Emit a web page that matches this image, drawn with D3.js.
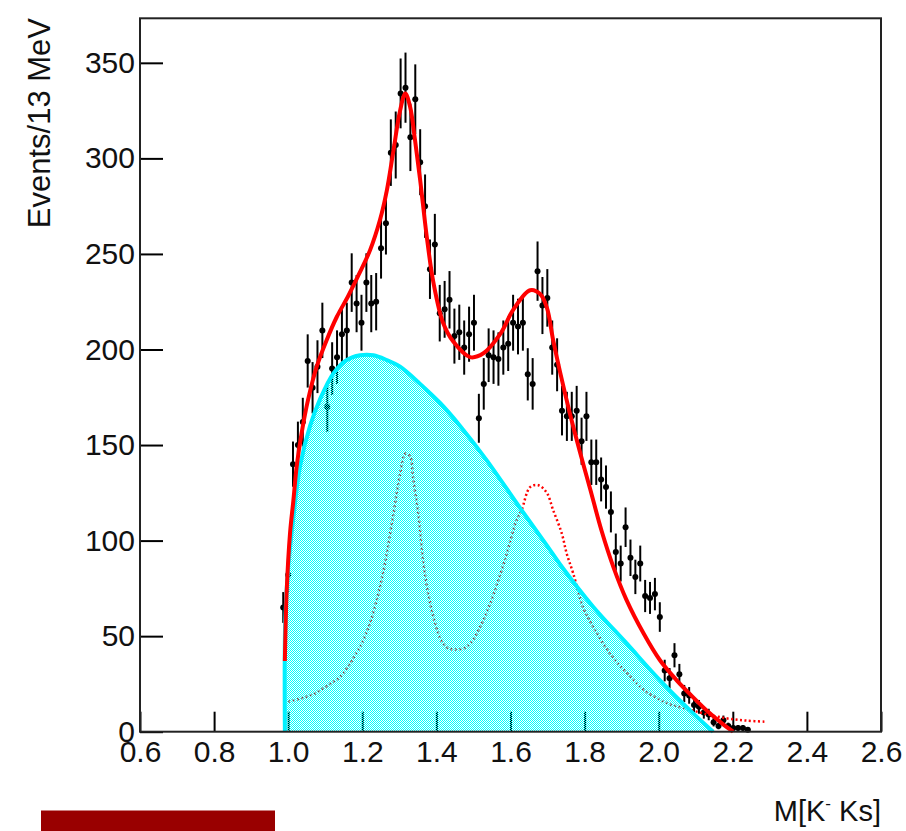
<!DOCTYPE html>
<html>
<head>
<meta charset="utf-8">
<script src="https://cdn.jsdelivr.net/npm/d3@7"></script>
<style>
  body { margin: 0; background: #fff; }
  svg { display: block; }
  text { font-family: "Liberation Sans", Arial, sans-serif; }
</style>
</head>
<body>
<script>
// size of the page
var w = 906;
var h = 831;

// histogram binning: 100 bins from 0.98 to 2.30 (about 13 MeV each)
var binLow = 0.98;
var binWidth = 0.0132;

// events per bin, first bin at 0.98 (empty bins at the end are not drawn)
var counts = [65, 82, 140, 150, 162, 194, 180, 191, 210, 170,
              190, 196, 208, 210, 235, 224, 214, 235, 224, 225,
              253, 266, 303, 307, 334, 337, 311, 331, 298, 275,
              242, 255, 219, 221, 226, 207, 209, 201, 208, 214,
              164, 182, 197, 196, 195, 201, 203, 214, 212, 214,
              187, 182, 241, 223, 227, 201, 192, 168, 165, 165,
              168, 152, 165, 141, 141, 132, 128, 115, 94, 88,
              107, 91, 81, 88, 71, 70, 72, 60, 32, 28,
              40, 30, 20, 19, 14, 13, 10, 9, 5, 3,
              6, 3, 2, 2, 2, 1];

// total fit (red solid)
var fitX = [0.991, 0.996, 1.005, 1.014, 1.023, 1.036, 1.054, 1.077, 1.104, 1.131,
            1.162, 1.190, 1.221, 1.248, 1.266, 1.284, 1.302, 1.316, 1.329, 1.342,
            1.356, 1.374, 1.392, 1.418, 1.446, 1.491, 1.527, 1.572, 1.608, 1.653,
            1.680, 1.698, 1.715, 1.734, 1.761, 1.788, 1.815, 1.846, 1.878, 1.913,
            1.959, 2.003, 2.048, 2.093, 2.138, 2.170, 2.201];
var fitY = [37, 74, 104, 121, 139, 156, 174, 191, 205, 217,
            228, 239, 252, 268, 283, 304, 325, 334, 327, 310,
            289, 259, 235, 214, 204, 196, 198, 208, 221, 231,
            229, 222, 205, 188, 166, 146, 127, 105, 86, 69,
            51.5, 37.5, 27, 18, 9.6, 4.5, 0];

// background (cyan)
var bkgX = [0.991, 0.992, 1.000, 1.014, 1.032, 1.059, 1.086, 1.122, 1.158, 1.194,
            1.230, 1.266, 1.302, 1.356, 1.410, 1.464, 1.536, 1.626, 1.700, 1.734,
            1.823, 1.913, 2.003, 2.093, 2.147];
var bkgY = [0, 58, 86, 112, 139, 160, 174, 187.5, 194.5, 197,
            197, 194.5, 191, 182, 172, 160, 142, 117, 97, 87.5,
            65.4, 46.3, 27, 9.6, 0];

// signal (red dotted)
var sigX = [1.000, 1.032, 1.068, 1.104, 1.140, 1.176, 1.203, 1.221, 1.243, 1.261,
            1.284, 1.302, 1.316, 1.329, 1.337, 1.351, 1.365, 1.378, 1.392, 1.410,
            1.428, 1.450, 1.473, 1.491, 1.518, 1.545, 1.585, 1.617, 1.630, 1.653,
            1.675, 1.698, 1.715, 1.738, 1.752, 1.769, 1.796, 1.823, 1.868, 1.913,
            1.959, 2.021, 2.075, 2.120, 2.183, 2.237, 2.291];
var sigY = [15.7, 17.3, 19.6, 23.9, 28.8, 38.4, 48, 57, 72, 88,
            114, 135, 145.5, 144, 133, 114, 88, 72, 60, 49,
            44, 43, 43.6, 46, 55, 67, 90, 111, 116, 128,
            129, 125, 116, 104, 93, 83, 65, 55, 41, 31,
            22, 15, 12, 9.6, 7, 5.8, 5.2];

// axis ticks
var xMajor = [0.6, 0.8, 1.0, 1.2, 1.4, 1.6, 1.8, 2.0, 2.2, 2.4, 2.6];
var yMajor = [0, 50, 100, 150, 200, 250, 300, 350];

var svg = d3.select("body")
        .append("svg")
        .attr("width", w)
        .attr("height", h);

var x = d3.scaleLinear().domain([0.6, 2.6]).range([140, 881]);
var y = d3.scaleLinear().domain([0, 373.3]).range([731.7, 18.3]);

// stipple fill like ROOT fill style 3001 (checkerboard)
var defs = svg.append("defs");
var pat = defs.append("pattern")
        .attr("id", "stip")
        .attr("width", 2)
        .attr("height", 2)
        .attr("patternUnits", "userSpaceOnUse");
pat.append("rect").attr("x", 0).attr("y", 0).attr("width", 1).attr("height", 1)
        .attr("fill", "#00ffff").attr("shape-rendering", "crispEdges");
pat.append("rect").attr("x", 1).attr("y", 1).attr("width", 1).attr("height", 1)
        .attr("fill", "#00ffff").attr("shape-rendering", "crispEdges");

// minor ticks first, they end up under the fill
var xMinor = d3.range(0.6, 2.6001, 0.05).filter(function(v) {
    return Math.abs(v * 5 - Math.round(v * 5)) > 1e-6;
});
var yMinor = d3.range(0, 371, 10).filter(function(v) { return v % 50 !== 0; });

var gx = svg.append("g").attr("transform", "translate(0,731.7)");
gx.call(d3.axisBottom(x).tickValues(xMinor).tickSize(-10).tickFormat(""));
gx.call(d3.axisBottom(x).tickValues(xMajor).tickSize(-20).tickPadding(9)
        .tickFormat(d3.format(".1f")));

var gy = svg.append("g").attr("transform", "translate(140,0)");
gy.call(d3.axisLeft(y).tickValues(yMinor).tickSize(-12).tickFormat(""));
gy.call(d3.axisLeft(y).tickValues(yMajor).tickSize(-23).tickPadding(5));

svg.selectAll(".domain").remove();
svg.selectAll(".tick line").attr("stroke", "#000").attr("stroke-width", 2);
svg.selectAll(".tick text")
        .attr("font-size", "30px")
        .attr("font-family", "Liberation Sans, Arial, sans-serif")
        .attr("fill", "#111");

// data points with errors
var pts = counts.map(function(c, i) {
    return { m: binLow + binWidth * (i + 0.5), n: c, e: Math.sqrt(c) };
});

var gData = svg.append("g");
gData.selectAll("line.ey")
        .data(pts)
        .enter()
        .append("line")
        .attr("x1", function(d) { return x(d.m); })
        .attr("x2", function(d) { return x(d.m); })
        .attr("y1", function(d) { return y(d.n - d.e); })
        .attr("y2", function(d) { return y(d.n + d.e); })
        .attr("stroke", "#000")
        .attr("stroke-width", 2);
gData.selectAll("line.ex")
        .data(pts)
        .enter()
        .append("line")
        .attr("x1", function(d) { return x(d.m - binWidth / 2); })
        .attr("x2", function(d) { return x(d.m + binWidth / 2); })
        .attr("y1", function(d) { return y(d.n); })
        .attr("y2", function(d) { return y(d.n); })
        .attr("stroke", "#000")
        .attr("stroke-width", 1.5);
gData.selectAll("circle")
        .data(pts)
        .enter()
        .append("circle")
        .attr("cx", function(d) { return x(d.m); })
        .attr("cy", function(d) { return y(d.n); })
        .attr("r", 3)
        .attr("fill", "#000");

var line = d3.line()
        .x(function(d) { return x(d[0]); })
        .y(function(d) { return y(d[1]); })
        .curve(d3.curveCatmullRom.alpha(0.5));

var zip = function(a, b) { return a.map(function(v, i) { return [v, b[i]]; }); };

// signal component (under the fill)
svg.append("path")
        .attr("d", line(zip(sigX, sigY)))
        .attr("fill", "none")
        .attr("stroke", "#ff0000")
        .attr("stroke-width", 2.5)
        .attr("stroke-dasharray", "2,2.5");

// background fill + outline
var area = d3.area()
        .x(function(d) { return x(d[0]); })
        .y0(y(0))
        .y1(function(d) { return y(d[1]); })
        .curve(d3.curveCatmullRom.alpha(0.5));

svg.append("path")
        .attr("d", area(zip(bkgX, bkgY)))
        .attr("fill", "url(#stip)")
        .attr("stroke", "none");

svg.append("path")
        .attr("d", line(zip(bkgX, bkgY)))
        .attr("fill", "none")
        .attr("stroke", "#00f0ff")
        .attr("stroke-width", 4);

// total fit
svg.append("path")
        .attr("d", line(zip(fitX, fitY)))
        .attr("fill", "none")
        .attr("stroke", "#ff0000")
        .attr("stroke-width", 4);

// frame
svg.append("rect")
        .attr("x", 140)
        .attr("y", 18.3)
        .attr("width", 741)
        .attr("height", 713.4)
        .attr("fill", "none")
        .attr("stroke", "#222")
        .attr("stroke-width", 2);

// axis titles
svg.append("text")
        .attr("transform", "translate(50,18) rotate(-90)")
        .attr("text-anchor", "end")
        .attr("font-size", "31px")
        .attr("fill", "#111")
        .text("Events/13 MeV");

var xt = svg.append("text")
        .attr("x", 881)
        .attr("y", 821)
        .attr("text-anchor", "end")
        .attr("font-size", "29px")
        .attr("fill", "#111");
xt.append("tspan").text("M[K");
xt.append("tspan").attr("font-size", "17px").attr("dy", -12).text("-");
xt.append("tspan").attr("dy", 12).text(" Ks]");

// dark red block at the bottom
svg.append("rect")
        .attr("x", 41)
        .attr("y", 810.5)
        .attr("width", 234)
        .attr("height", 20.5)
        .attr("fill", "#990000");
</script>
</body>
</html>
